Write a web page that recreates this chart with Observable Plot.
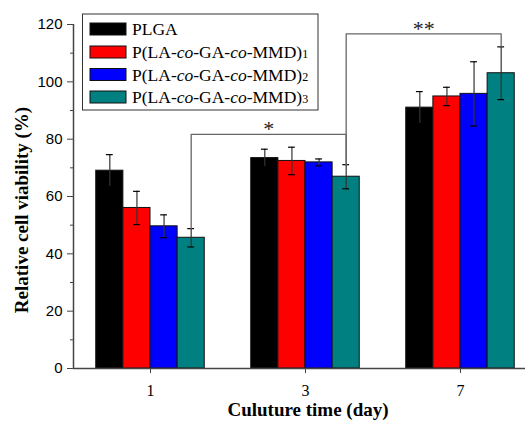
<!DOCTYPE html>
<html>
<head>
<meta charset="utf-8">
<script src="https://cdn.jsdelivr.net/npm/d3@7"></script>
<script src="https://cdn.jsdelivr.net/npm/@observablehq/plot@0.6"></script>
<style>
  html, body { margin: 0; padding: 0; background: white; }
  #chart svg { display: block; }
</style>
</head>
<body>
<div id="chart"></div>
<script>
// ---- data ----
const days = ["1", "3", "7"];
const seriesNames = ["PLGA", "P(LA-co-GA-co-MMD)1", "P(LA-co-GA-co-MMD)2", "P(LA-co-GA-co-MMD)3"];
const seriesColors = ["#000000", "#ff0000", "#0000ff", "#008080"];
const plga = [69.0, 73.4, 91.0];
const mmd1 = [56.0, 72.4, 94.9];
const mmd2 = [49.6, 71.9, 95.8];
const mmd3 = [45.6, 66.9, 103.0];
const errPlga = [5.6, 3.1, 5.6];
const errMmd1 = [5.8, 4.8, 3.2];
const errMmd2 = [4.0, 1.2, 11.2];
const errMmd3 = [3.2, 4.2, 9.2];
const yTicks = [0, 20, 40, 60, 80, 100, 120];
const yMinorTicks = [10, 30, 50, 70, 90, 110];
// significance brackets: from group, to group, bracket level, label
const sigFrom = [0, 1];
const sigTo = [1, 2];
const sigLevel = [81.7, 116.7];
const sigLabel = ["*", "**"];

// ---- build table ----
const values = [plga, mmd1, mmd2, mmd3];
const errs = [errPlga, errMmd1, errMmd2, errMmd3];
const bw = 0.175; // bar width in group units
const rows = [];
days.forEach((d, gi) => {
  seriesNames.forEach((s, si) => {
    const x1 = gi + (si - 2) * bw;
    rows.push({day: d, series: s, color: seriesColors[si], v: values[si][gi], e: errs[si][gi],
               x1, x2: x1 + bw, xc: x1 + bw / 2});
  });
});
const tealCenter = gi => gi + 1.5 * bw;
const tealTop = gi => mmd3[gi] + errMmd3[gi];
const bracketPts = [];
sigFrom.forEach((f, k) => {
  const t = sigTo[k];
  [[tealCenter(f), tealTop(f)], [tealCenter(f), sigLevel[k]], [tealCenter(t), sigLevel[k]], [tealCenter(t), tealTop(t)]]
    .forEach(([x, y]) => bracketPts.push({k, x, y}));
});
const sigText = sigLabel.map((l, k) => ({l, x: (tealCenter(sigFrom[k]) + tealCenter(sigTo[k])) / 2, y: sigLevel[k]}));

const xDomain = [-0.4968, 2.4194];
const cap = 0.022;
const serif = "'Liberation Serif', 'Times New Roman', serif";

const plot = Plot.plot({
  width: 525,
  height: 423,
  marginLeft: 73,
  marginRight: 0,
  marginTop: 24,
  marginBottom: 55,
  style: {fontFamily: "'Liberation Sans', Arial, sans-serif", fontSize: "15px", color: "black", background: "white"},
  x: {type: "linear", domain: xDomain},
  y: {domain: [0, 120]},
  marks: [
    Plot.rectY(rows, {x1: "x1", x2: "x2", y: "v", fill: "color", stroke: "#111", strokeWidth: 1}),
    Plot.ruleX(rows, {x: "xc", y1: d => d.v - d.e, y2: d => d.v + d.e, stroke: "#333", strokeWidth: 1.2}),
    Plot.ruleY(rows, {y: d => d.v + d.e, x1: d => d.xc - cap, x2: d => d.xc + cap, stroke: "#000", strokeWidth: 1.2}),
    Plot.ruleY(rows, {y: d => d.v - d.e, x1: d => d.xc - cap, x2: d => d.xc + cap, stroke: "#000", strokeWidth: 1.2}),
    Plot.line(bracketPts, {x: "x", y: "y", z: "k", stroke: "#666", strokeWidth: 1.3}),
    Plot.text(sigText, {x: "x", y: "y", text: "l", dy: -5, fontSize: 22, fontFamily: serif, fill: "#222"}),
    Plot.ruleY([0], {stroke: "#444", strokeWidth: 1.5}),
    Plot.ruleX([xDomain[0]], {y1: 0, y2: 120, stroke: "#444", strokeWidth: 1.5}),
    Plot.axisY({ticks: yTicks, tickSize: 6, tickPadding: 5, fontSize: 15, stroke: "#444", label: null}),
    Plot.axisY({ticks: yMinorTicks, tickSize: 3, tickFormat: () => "", stroke: "#444", label: null}),
    Plot.axisX({ticks: [0, 1, 2], tickFormat: i => days[i], tickSize: 5, tickPadding: 11, fontSize: 16,
                fontFamily: serif, stroke: "#444", label: null})
  ]
});

document.getElementById("chart").appendChild(plot);
const svg = d3.select(plot);

// axis titles
svg.append("text")
  .attr("transform", "translate(28,210) rotate(-90)")
  .attr("text-anchor", "middle")
  .attr("font-family", serif).attr("font-weight", "bold").attr("font-size", 19)
  .text("Relative cell viability (%)");
svg.append("text")
  .attr("x", 308).attr("y", 416)
  .attr("text-anchor", "middle")
  .attr("font-family", serif).attr("font-weight", "bold").attr("font-size", 19)
  .text("Culuture time (day)");

// legend
const lg = svg.append("g").attr("text-anchor", "start");
lg.append("rect").attr("x", 82.5).attr("y", 14).attr("width", 235.5).attr("height", 96)
  .attr("fill", "white").attr("stroke", "#333").attr("stroke-width", 1);
const rowY = [29, 52, 74.5, 97];
seriesNames.forEach((name, i) => {
  lg.append("rect").attr("x", 90).attr("y", rowY[i] - 6).attr("width", 36).attr("height", 12)
    .attr("fill", seriesColors[i]).attr("stroke", "#111").attr("stroke-width", 1);
  const t = lg.append("text").attr("x", 132).attr("y", rowY[i] + 6)
    .attr("text-anchor", "start")
    .attr("font-family", serif).attr("font-size", 17.5).attr("fill", "black");
  if (i === 0) {
    t.text(name);
  } else {
    const m = name.match(/^P\(LA-co-GA-co-MMD\)(\d)$/);
    t.append("tspan").text("P(LA-");
    t.append("tspan").attr("font-style", "italic").text("co");
    t.append("tspan").text("-GA-");
    t.append("tspan").attr("font-style", "italic").text("co");
    t.append("tspan").text("-MMD)");
    t.append("tspan").attr("font-size", 12).text(m[1]);
  }
});
</script>
</body>
</html>
